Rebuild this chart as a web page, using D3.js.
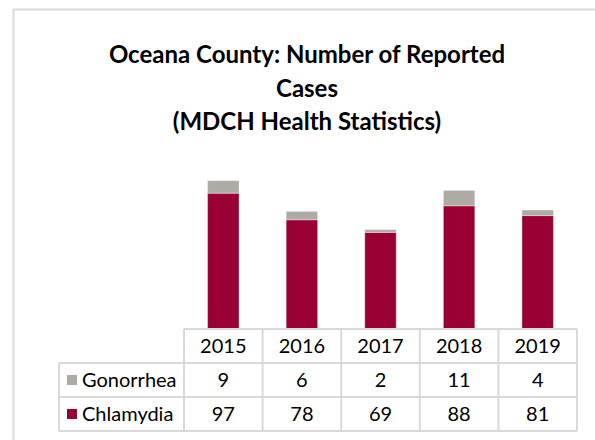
<!DOCTYPE html>
<html>
<head>
<meta charset="utf-8">
<script src="https://cdn.jsdelivr.net/npm/d3@7"></script>
<style>
  body { margin: 0; background: #fff; }
  text { font-family: Lato, "Open Sans", sans-serif; }
</style>
</head>
<body>
<div id="chart"></div>
<script>
// data
const years = ['2015', '2016', '2017', '2018', '2019']
const chlamydia = [97, 78, 69, 88, 81]
const gonorrhea = [9, 6, 2, 11, 4]
const titleLines = ['Oceana County: Number of Reported', 'Cases', '(MDCH Health Statistics)']

const series = [
  { name: 'Gonorrhea', values: gonorrhea, color: '#aeaaa4' },
  { name: 'Chlamydia', values: chlamydia, color: '#990033' }
]

const width = 595
const height = 440
const gridColor = '#d9d9d9'

// dimensions
const table = { left: 184, right: 577, top: 329, rowH: 34, labelLeft: 59 }

const svg = d3.select('#chart')
  .append('svg')
  .attr('width', width)
  .attr('height', height)

// outer frame
svg.append('rect')
  .attr('x', 13.5)
  .attr('y', 9.5)
  .attr('width', 600)
  .attr('height', 440)
  .attr('fill', 'none')
  .attr('stroke', gridColor)
  .attr('stroke-width', 2)

// title
svg.append('g')
  .selectAll('text')
  .data(titleLines)
  .join('text')
  .attr('x', 307)
  .attr('y', (d, i) => 63 + i * 33.5)
  .attr('text-anchor', 'middle')
  .attr('font-size', 24)
  .attr('font-weight', 'bold')
  .attr('fill', '#000')
  .text(d => d)

// scales
const xScale = d3.scaleBand()
  .domain(years)
  .range([table.left, table.right])
  .padding(0)

const yScale = d3.scaleLinear()
  .domain([0, 120])
  .range([table.top, table.top - 168])

const barW = xScale.bandwidth() * 0.4

// stacked bars
const rows = years.map((y, i) => ({ year: y, Chlamydia: chlamydia[i], Gonorrhea: gonorrhea[i] }))
const stacked = d3.stack().keys(['Chlamydia', 'Gonorrhea'])(rows)
const colorOf = { Chlamydia: '#990033', Gonorrhea: '#aeaaa4' }

svg.append('g')
  .selectAll('g')
  .data(stacked)
  .join('g')
  .attr('fill', d => colorOf[d.key])
  .selectAll('rect')
  .data(d => d)
  .join('rect')
  .attr('x', d => xScale(d.data.year) + (xScale.bandwidth() - barW) / 2)
  .attr('y', d => yScale(d[1]))
  .attr('width', barW)
  .attr('height', d => yScale(d[0]) - yScale(d[1]))
  .attr('stroke', 'rgba(255,255,255,0.35)')
  .attr('stroke-width', 1)

// data table
const grid = svg.append('g')
  .attr('stroke', gridColor)
  .attr('stroke-width', 2)
  .attr('fill', 'none')

const tBottom = table.top + table.rowH * 3
// horizontal lines
grid.append('line')
  .attr('x1', table.left).attr('x2', table.right)
  .attr('y1', table.top).attr('y2', table.top)
;[1, 2, 3].forEach(r => {
  grid.append('line')
    .attr('x1', table.labelLeft).attr('x2', table.right)
    .attr('y1', table.top + r * table.rowH).attr('y2', table.top + r * table.rowH)
})
// vertical lines
years.forEach(y => {
  grid.append('line')
    .attr('x1', xScale(y)).attr('x2', xScale(y))
    .attr('y1', table.top).attr('y2', tBottom)
})
grid.append('line')
  .attr('x1', table.right).attr('x2', table.right)
  .attr('y1', table.top).attr('y2', tBottom)
grid.append('line')
  .attr('x1', table.labelLeft).attr('x2', table.labelLeft)
  .attr('y1', table.top + table.rowH).attr('y2', tBottom)

// header row
svg.append('g')
  .selectAll('text')
  .data(years)
  .join('text')
  .attr('x', d => xScale(d) + xScale.bandwidth() / 2)
  .attr('y', table.top + table.rowH / 2 + 7)
  .attr('text-anchor', 'middle')
  .attr('font-size', 20)
  .attr('fill', '#000')
  .text(d => d)

// series rows
series.forEach((s, r) => {
  const cy = table.top + table.rowH * (r + 1) + table.rowH / 2
  const g = svg.append('g')
  g.append('rect')
    .attr('x', 67)
    .attr('y', cy - 5)
    .attr('width', 10)
    .attr('height', 10)
    .attr('fill', s.color)
  g.append('text')
    .attr('x', 82)
    .attr('y', cy + 7)
    .attr('font-size', 20)
    .attr('fill', '#000')
    .text(s.name)
  g.selectAll('text.val')
    .data(s.values)
    .join('text')
    .attr('class', 'val')
    .attr('x', (d, i) => xScale(years[i]) + xScale.bandwidth() / 2)
    .attr('y', cy + 7)
    .attr('text-anchor', 'middle')
    .attr('font-size', 20)
    .attr('fill', '#000')
    .text(d => d)
})
</script>
</body>
</html>
